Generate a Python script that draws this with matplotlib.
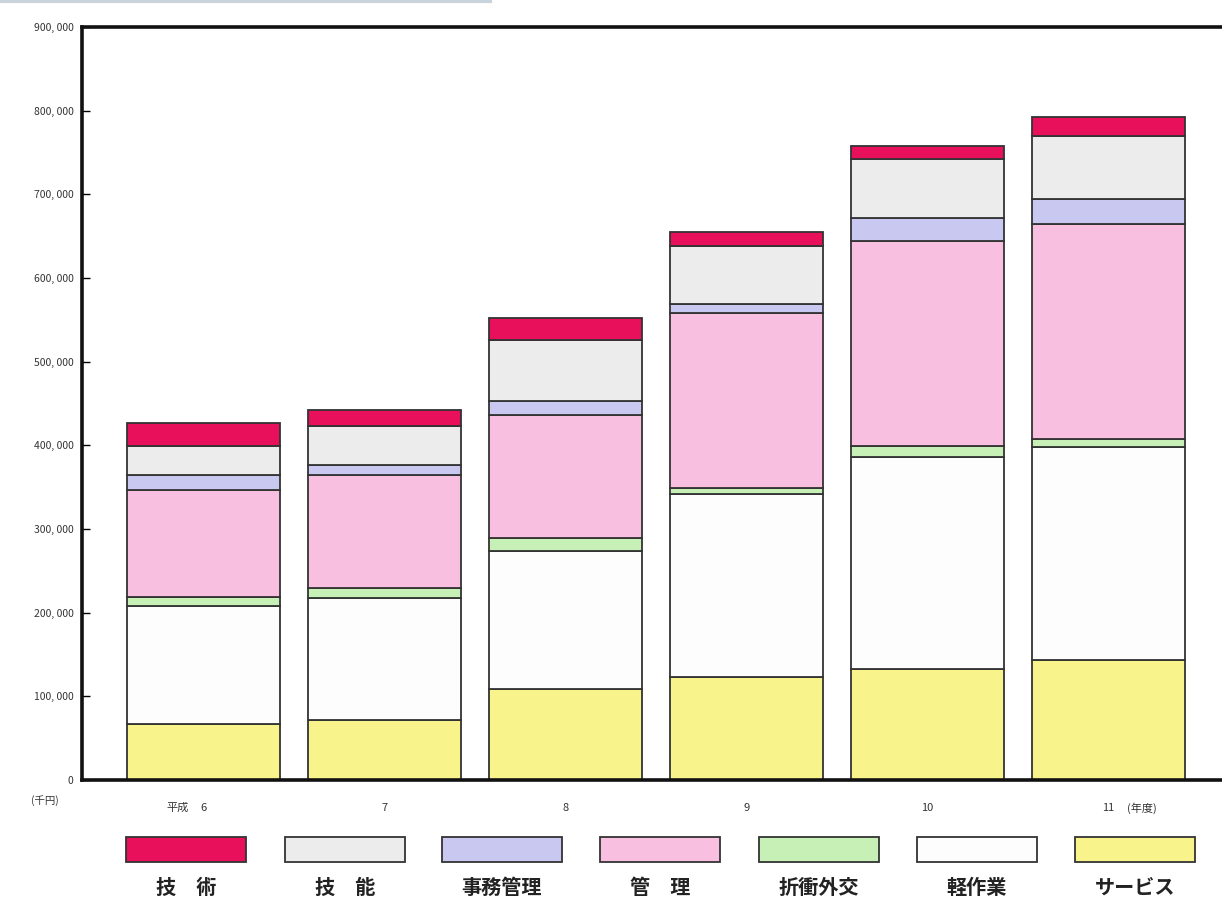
import matplotlib.pyplot as plt
from matplotlib.patches import Rectangle
import numpy as np

plt.rcParams['font.family'] = ['Noto Sans CJK JP', 'DejaVu Sans']

# 年度ごとの職種別金額（千円）
years = ["6", "7", "8", "9", "10", "11"]
gijutsu = [27000, 20000, 26000, 16500, 16000, 22000]        # 技術
ginou = [34500, 46000, 73000, 69500, 70000, 75500]          # 技能
jimu = [18000, 12700, 15800, 10000, 28000, 30000]           # 事務管理
kanri = [128000, 135000, 148000, 209000, 245000, 257000]    # 管理
sesshou = [11000, 12000, 14800, 7500, 12500, 9500]          # 折衝外交
keisagyo = [141000, 145000, 165000, 218500, 254000, 255000]  # 軽作業
service = [67000, 72000, 109000, 123500, 132500, 143000]    # サービス

yticks = [0, 100000, 200000, 300000, 400000, 500000, 600000, 700000, 800000, 900000]

# 下から積む順
series = [
    ("サービス", service, "#f8f38a"),
    ("軽作業", keisagyo, "#fdfdfd"),
    ("折衝外交", sesshou, "#c6f0b6"),
    ("管　理", kanri, "#f8bfe0"),
    ("事務管理", jimu, "#c9c8f0"),
    ("技　能", ginou, "#ececec"),
    ("技　術", gijutsu, "#e8105a"),
]

W, H = 1222, 905
fig = plt.figure(figsize=(W / 100, H / 100), dpi=100)

ax = fig.add_axes([82 / W, (905 - 780) / H, 1 - 82 / W, (780 - 27) / H])
x = np.arange(len(years))
bottom = np.zeros(len(years))
for name, vals, col in series:
    ax.bar(x, vals, bottom=bottom, width=0.845, color=col,
           edgecolor="#333333", linewidth=1.3)
    bottom += np.array(vals)

ax.set_xlim(-0.671, 5.627)
ax.set_ylim(0, 900000)
ax.set_yticks(yticks)
ax.set_yticklabels([f"{v:,}".replace(",", ", ") for v in yticks],
                   fontsize=7.5, color="#333333")
ax.tick_params(axis="y", direction="in", length=6, width=1, pad=6)
ax.set_xticks([])
for s in ["left", "top", "bottom"]:
    ax.spines[s].set_linewidth(2.6)
    ax.spines[s].set_color("#111111")
ax.spines["right"].set_visible(False)

# 年度ラベル（数字を棒の中心に、前後に「平成」「(年度)」）
tr = ax.get_xaxis_transform()
ly = -0.037
for xi, yr in zip(x, years):
    ax.text(xi, ly, yr, transform=tr, ha="center", va="center",
            fontsize=8, color="#333333")
ax.text(x[0] - 0.08, ly, "平成", transform=tr, ha="right", va="center",
        fontsize=8, color="#333333")
ax.text(x[-1] + 0.1, ly, "(年度)", transform=tr, ha="left", va="center",
        fontsize=8, color="#333333")
fig.text(45 / W, 1 - 801 / H, "(千円)", ha="center", va="center",
         fontsize=7.5, color="#333333")

# 上端の見出し帯の名残
fig.add_artist(plt.Line2D([0, 490 / W], [1 - 1 / H, 1 - 1 / H],
                          color="#c9d3dc", linewidth=3))

# 凡例（色見本の下にラベル）
leg = fig.add_axes([0, 0, 1, 1], facecolor="none")
leg.set_xlim(0, W)
leg.set_ylim(H, 0)
leg.axis("off")
box_left = [126, 285, 442, 600, 759, 917, 1075]
for (name, vals, col), bx in zip(series[::-1], box_left):
    leg.add_patch(Rectangle((bx, 837), 120, 25, facecolor=col,
                            edgecolor="#333333", linewidth=1.3))
    leg.text(bx + 60, 887, name, ha="center", va="center",
             fontsize=14.5, fontweight="bold", color="#222222")

fig.savefig("out.png", dpi=100, facecolor="white")
